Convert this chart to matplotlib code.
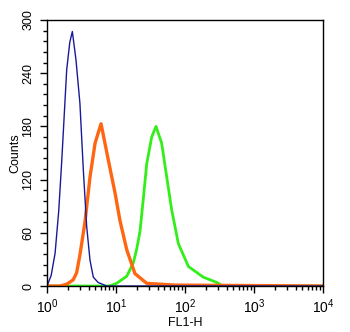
import numpy as np
import matplotlib.pyplot as plt
from matplotlib.ticker import MultipleLocator, LogLocator, NullFormatter

plt.rcParams['font.family'] = ['Liberation Sans', 'DejaVu Sans']
plt.rcParams['mathtext.default'] = 'regular'

# histogram outlines (FL1-H value, counts)
blue_x = [1.0, 1.15, 1.31, 1.48, 1.63, 1.93, 2.14, 2.33, 2.63, 3.0, 3.36, 3.76, 4.2, 4.69, 5.5, 7.3, 10000]
blue_y = [0, 12, 37, 85, 139, 244, 275, 287, 255, 206, 131, 67, 29, 10, 4, 0, 0]

orange_x = [1.0, 1.54, 1.93, 2.4, 2.69, 3.0, 3.55, 4.2, 4.97, 6.07, 7.74, 9.68, 11.4, 14.3, 18.8, 27.9, 72, 10000]
orange_y = [0, 0, 2, 7, 15, 35, 72, 123, 161, 183, 142, 105, 74, 41, 14, 3, 1, 0]

green_x = [1.0, 8.0, 10.2, 14.3, 17.8, 20, 22.3, 25, 27.9, 32.9, 38, 45.9, 54.3, 64.1, 80, 112, 184, 288, 355, 10000]
green_y = [0, 0, 3, 11, 26, 42, 62, 100, 138, 168, 180, 161, 123, 86, 48, 22, 10, 4, 0, 0]

fig = plt.figure(figsize=(3.5, 3.32), dpi=100)
ax = fig.add_axes([47/350, 1-286/332, 276/350, 266/332])

ax.plot(green_x, green_y, color='#33ee1a', lw=2.0)
ax.plot(orange_x, orange_y, color='#ff6611', lw=2.4)
ax.plot(blue_x, blue_y, color='#1a1a99', lw=1.0)

ax.set_xscale('log')
ax.set_xlim(1, 10000)
ax.set_ylim(0, 300)
ax.yaxis.set_major_locator(MultipleLocator(60))
ax.yaxis.set_minor_locator(MultipleLocator(12))
ax.xaxis.set_major_locator(LogLocator(base=10))
ax.xaxis.set_minor_locator(LogLocator(base=10, subs=np.arange(2, 10)))
ax.xaxis.set_minor_formatter(NullFormatter())

ax.tick_params(which='both', direction='out', width=1)
ax.tick_params(which='major', length=5)
ax.tick_params(which='minor', length=3)
ax.tick_params(axis='x', labelsize=10, pad=3)
ax.tick_params(axis='y', labelsize=9, pad=4)
for lab in ax.get_yticklabels():
    lab.set_rotation(90)
    lab.set_va('center')
for s in ax.spines.values():
    s.set_linewidth(1)

ax.set_xlabel('FL1-H', fontsize=9, labelpad=1)
ax.set_ylabel('Counts', fontsize=9, labelpad=1)

fig.savefig('out.png', dpi=100)
